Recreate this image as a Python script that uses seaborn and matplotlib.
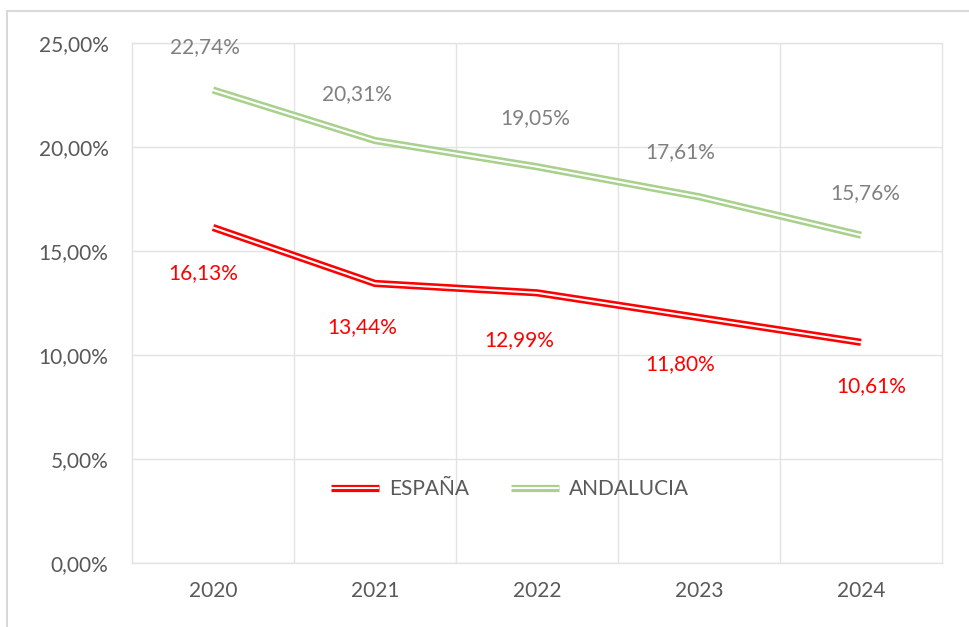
import matplotlib
matplotlib.use("Agg")
import matplotlib.pyplot as plt
import matplotlib.patheffects as pe
from matplotlib.lines import Line2D
from matplotlib.ticker import FuncFormatter, MultipleLocator
import pandas as pd
import seaborn as sns

years = ["2020", "2021", "2022", "2023", "2024"]
espana = [0.1613, 0.1344, 0.1299, 0.1180, 0.1061]
andalucia = [0.2274, 0.2031, 0.1905, 0.1761, 0.1576]
series_names = ["ESPAÑA", "ANDALUCIA"]

# label offsets in pixels (dx, dy) relative to each point
esp_offsets = [(-10, -46), (-13, -44), (-18, -47), (-19, -47), (10, -44)]
and_offsets = [(-8, 43), (-18, 46), (-2, 49), (-19, 45), (4, 42)]

RED = "#FF0000"
GREEN = "#A9D18E"
GRID = "#E3E3E3"
TEXT = "#595959"
FS = 15


def double_line(col):
    return [pe.Stroke(linewidth=5.2, foreground=col, capstyle="butt", joinstyle="miter"), pe.Normal()]


sns.set_theme(style="white")
plt.rcParams["font.family"] = ["Lato", "DejaVu Sans"]

df = pd.DataFrame(
    {
        "year": years * 2,
        "value": espana + andalucia,
        "serie": [series_names[0]] * len(years) + [series_names[1]] * len(years),
    }
)
df["x"] = df.groupby("serie").cumcount()

fig = plt.figure(figsize=(9.7, 6.27), dpi=100)
ax = fig.add_axes([132 / 970, 1 - 563 / 627, 810 / 970, 520 / 627])

sns.lineplot(
    data=df, x="x", y="value", hue="serie", palette=[RED, GREEN],
    ax=ax, legend=False, linewidth=1.5, zorder=3,
)
for line, col in zip(ax.lines, [RED, GREEN]):
    line.set_color("white")
    line.set_solid_capstyle("butt")
    line.set_solid_joinstyle("miter")
    line.set_path_effects(double_line(col))

ax.set_xlim(-0.5, len(years) - 0.5)
ax.set_ylim(0, 0.25)
ax.yaxis.set_major_locator(MultipleLocator(0.05))
ax.yaxis.set_major_formatter(FuncFormatter(lambda v, _: f"{v * 100:.2f}%".replace(".", ",")))
ax.set_xticks(range(len(years)))
ax.set_xticklabels(years)
ax.set_xticks([i + 0.5 for i in range(len(years) - 1)], minor=True)
ax.grid(axis="y", which="major", color=GRID, linewidth=1.0)
ax.grid(axis="x", which="minor", color=GRID, linewidth=1.0)
ax.set_axisbelow(True)
for s in ax.spines.values():
    s.set_color(GRID)
    s.set_linewidth(1.0)
ax.tick_params(axis="y", length=0, pad=17, labelsize=FS, labelcolor=TEXT)
ax.tick_params(axis="x", which="both", length=0, pad=13, labelsize=FS, labelcolor=TEXT)
ax.set_xlabel("")
ax.set_ylabel("")

for i, (v, off) in enumerate(zip(espana, esp_offsets)):
    ax.annotate(f"{v * 100:.2f}%".replace(".", ","), (i, v), xytext=(off[0] * 0.72, off[1] * 0.72),
                textcoords="offset points", ha="center", va="center", color=RED, fontsize=FS)
for i, (v, off) in enumerate(zip(andalucia, and_offsets)):
    ax.annotate(f"{v * 100:.2f}%".replace(".", ","), (i, v), xytext=(off[0] * 0.72, off[1] * 0.72),
                textcoords="offset points", ha="center", va="center", color="#808080", fontsize=FS)

handles = [
    Line2D([], [], color="white", linewidth=1.5, solid_capstyle="butt", path_effects=double_line(c))
    for c in [RED, GREEN]
]
ax.legend(handles, series_names, loc="center", bbox_to_anchor=(0.467, 0.142), ncol=2,
          frameon=False, fontsize=FS, labelcolor=TEXT, handlelength=2.3, columnspacing=2.0,
          handletextpad=0.5)

# outer chart border (left and top)
fig.add_artist(Line2D([7 / 970, 7 / 970], [0, 1 - 11 / 627], color="#D9D9D9", linewidth=1.5,
                      transform=fig.transFigure))
fig.add_artist(Line2D([7 / 970, 1], [1 - 11 / 627, 1 - 11 / 627], color="#D9D9D9", linewidth=1.5,
                      transform=fig.transFigure))

fig.savefig("out.png", dpi=100)
